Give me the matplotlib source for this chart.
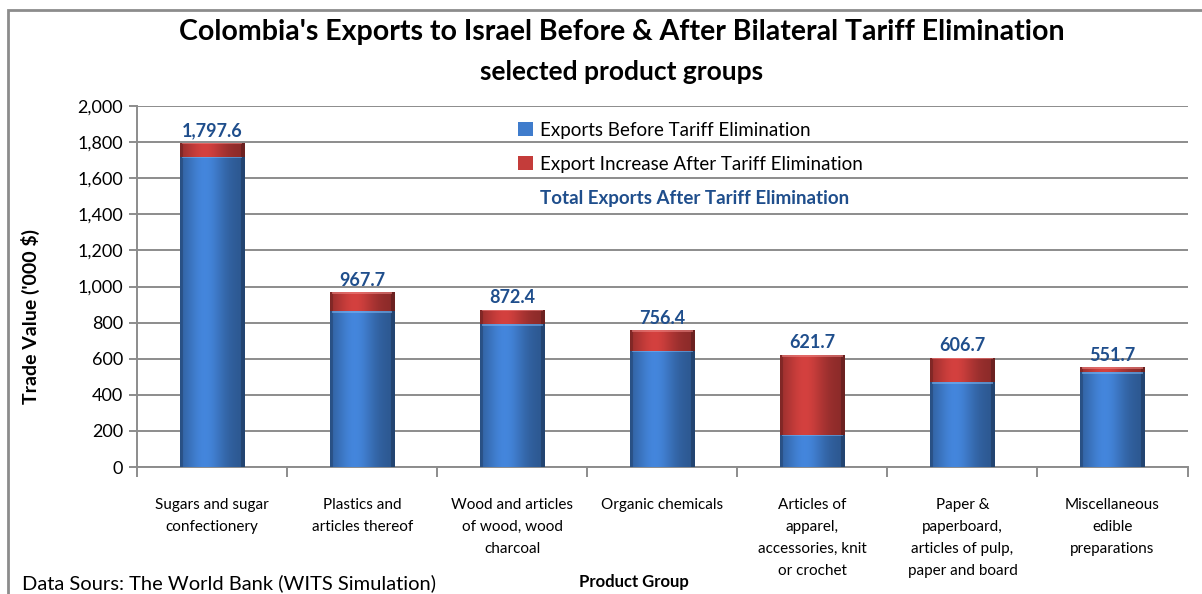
import numpy as np
import matplotlib.pyplot as plt
from matplotlib.patches import Rectangle
from matplotlib.ticker import FuncFormatter, FixedLocator

plt.rcParams['font.family'] = ['Lato', 'DejaVu Sans']

categories = [
    "Sugars and sugar\nconfectionery",
    "Plastics and\narticles thereof",
    "Wood and articles\nof wood, wood\ncharcoal",
    "Organic chemicals",
    "Articles of\napparel,\naccessories, knit\nor crochet",
    "Paper &\npaperboard,\narticles of pulp,\npaper and board",
    "Miscellaneous\nedible\npreparations",
]
before = [1720.0, 862.0, 790.0, 645.0, 180.0, 472.0, 524.0]
totals = [1797.6, 967.7, 872.4, 756.4, 621.7, 606.7, 551.7]
increase = [t - b for t, b in zip(totals, before)]

BLUE = "#3f7ccc"
RED = "#c43c3a"
LABEL_BLUE = "#1f4e8c"
GRID = "#8c8c8c"


def shade(ax, patches, base, top_light):
    # horizontal cylinder-like shading clipped to each bar
    c = np.array(plt.matplotlib.colors.to_rgb(base))
    xs = np.linspace(0, 1, 64)
    prof = 0.70 + 0.38 * np.exp(-((xs - 0.38) / 0.32) ** 2)
    prof[:3] *= 0.82
    prof[-4:] *= 0.78
    for p in patches:
        x, y = p.get_x(), p.get_y()
        w, h = p.get_width(), p.get_height()
        if h <= 0:
            continue
        img = np.clip(c[None, None, :] * prof[None, :, None], 0, 1)
        img = np.repeat(img, 2, axis=0)
        im = ax.imshow(img, extent=(x, x + w, y, y + h), aspect="auto",
                       origin="lower", zorder=3, interpolation="bilinear")
        im.set_clip_path(p)
        band = min(h, 10)
        ax.add_patch(Rectangle((x + w * 0.03, y + h - band), w * 0.94, band,
                               facecolor=top_light, edgecolor="none",
                               alpha=0.55, zorder=4))


fig = plt.figure(figsize=(12.02, 5.94), dpi=100)
ax = fig.add_axes([0.114, 0.2138, 0.874, 0.6077])

x = np.arange(len(categories))
b1 = ax.bar(x, before, width=0.43, color=BLUE, zorder=2,
            label="Exports Before Tariff Elimination")
b2 = ax.bar(x, increase, width=0.43, bottom=before, color=RED, zorder=2,
            label="Export Increase After Tariff Elimination")
shade(ax, b1, BLUE, "#7fb6f0")
shade(ax, b2, RED, "#f08a88")

for xi, t in zip(x, totals):
    ax.text(xi, t + 20, f"{t:,.1f}", ha="center", va="bottom",
            fontsize=13, fontweight="bold", color=LABEL_BLUE, zorder=5)

ax.set_xlim(-0.5, len(categories) - 0.5)
ax.set_ylim(0, 2000)
ax.set_yticks(np.arange(0, 2001, 200))
ax.yaxis.set_major_formatter(FuncFormatter(lambda v, _: f"{v:,.0f}"))
ax.grid(axis="y", color=GRID, linewidth=1.4, zorder=0)
ax.set_axisbelow(True)

ax.set_xticks(x)
ax.set_xticklabels(categories, fontsize=11, linespacing=1.75, va="top")
ax.tick_params(axis="x", length=0, pad=22)
ax.xaxis.set_minor_locator(FixedLocator(np.arange(-0.5, len(categories), 1)))
ax.tick_params(axis="x", which="minor", length=7, color=GRID, width=1.4)
ax.tick_params(axis="y", labelsize=13, length=6, color=GRID, width=1.4, pad=4)

for s in ["top", "right"]:
    ax.spines[s].set_visible(False)
for s in ["left", "bottom"]:
    ax.spines[s].set_color(GRID)
    ax.spines[s].set_linewidth(1.4)

ax.set_ylabel("Trade Value ('000 $)", fontsize=14, fontweight="bold")
ax.yaxis.set_label_coords(-0.092, 0.418)

handles, labels = ax.get_legend_handles_labels()
handles.append(Rectangle((0, 0), 1, 1, alpha=0))
labels.append("Total Exports After Tariff Elimination")
leg = ax.legend(handles, labels, loc="upper left", bbox_to_anchor=(0.347, 1.003),
                frameon=False, fontsize=13.5, handlelength=0.75, handleheight=0.75,
                handletextpad=0.4, labelspacing=0.9)
leg.get_texts()[2].set_color(LABEL_BLUE)
leg.get_texts()[2].set_fontweight("bold")

fig.text(0.517, 0.946, "Colombia's Exports to Israel Before & After Bilateral Tariff Elimination",
         ha="center", va="center", fontsize=20.5, fontweight="bold")
fig.text(0.517, 0.879, "selected product groups", ha="center", va="center",
         fontsize=19, fontweight="bold")
fig.text(0.527, 0.02, "Product Group", ha="center", va="center",
         fontsize=12, fontweight="bold")
fig.text(0.018, 0.018, "Data Sours: The World Bank (WITS Simulation)", ha="left",
         va="center", fontsize=14.5)

fig.patches.append(Rectangle((0.0067, -0.02), 1.02, 1.003, transform=fig.transFigure,
                             fill=False, edgecolor=GRID, linewidth=2))

fig.savefig("out.png", dpi=100)
